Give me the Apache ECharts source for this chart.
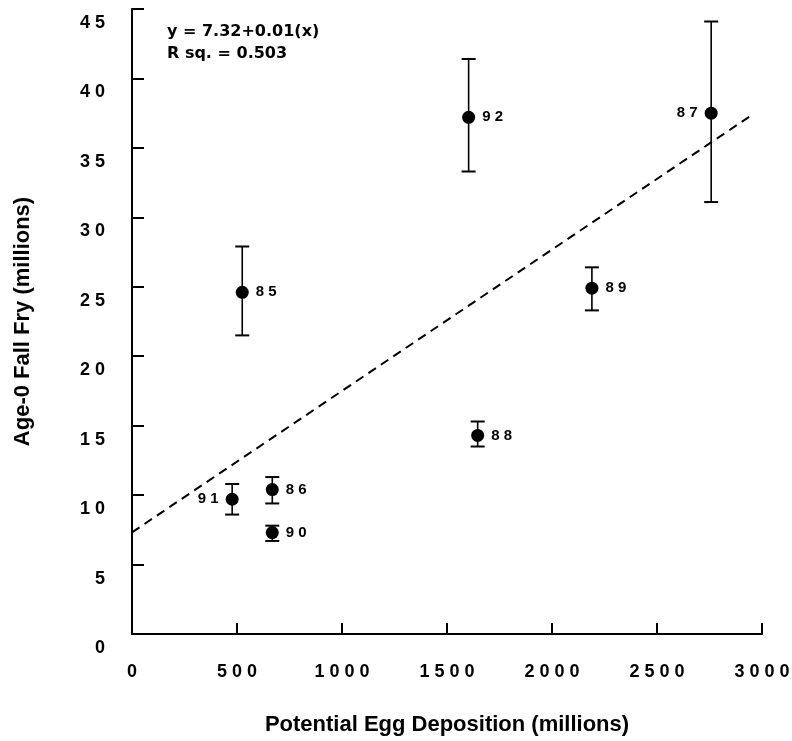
<!DOCTYPE html>
<html><head><meta charset="utf-8">
<script src="https://cdn.jsdelivr.net/npm/echarts@6/dist/echarts.min.js"></script>
<style>html,body{margin:0;padding:0;background:#fff}#c{width:792px;height:741px}</style>
</head><body><div id="c"></div>
<script>
const years = ['85','86','87','88','89','90','91','92'];
const eggs  = [525, 668, 2758, 1646, 2190, 668, 477, 1603];
const fry   = [24.6, 10.4, 37.5, 14.3, 24.9, 7.3, 9.7, 37.2];
const fryLow  = [21.5, 9.4, 31.1, 13.5, 23.3, 6.7, 8.6, 33.3];
const fryHigh = [27.9, 11.3, 44.1, 15.3, 26.4, 7.8, 10.8, 41.4];
const labelSide = ['right','right','left','right','right','right','left','right'];
const regX = [0, 2945];
const regY = [7.32, 37.3];
const xTicks = [0,500,1000,1500,2000,2500,3000];
const yTicks = [0,5,10,15,20,25,30,35,40,45];

const FONT = '"Liberation Sans", Arial, sans-serif';
const spaced = v => String(v).split('').join(' ');
const chart = echarts.init(document.getElementById('c'));

const pts = years.map((y,i)=>({value:[eggs[i], fry[i]], label:{position:labelSide[i]}}));
const errData = years.map((y,i)=>[eggs[i], fryLow[i], fryHigh[i]]);
const regData = regX.map((x,i)=>[x, regY[i]]);

chart.setOption({
  animation:false,
  backgroundColor:'#fff',
  grid:{left:132, right:30, top:9, bottom:107, containLabel:false, outerBoundsMode:'none'},
  xAxis:{type:'value', min:xTicks[0], max:xTicks[xTicks.length-1], interval:xTicks[1]-xTicks[0],
    axisLine:{lineStyle:{color:'#000', width:2}},
    axisTick:{inside:true, length:11, lineStyle:{color:'#000', width:2}},
    splitLine:{show:false},
    axisLabel:{color:'#000', fontFamily:FONT, fontWeight:'bold', fontSize:18, margin:29, formatter:spaced},
    name:'Potential Egg Deposition (millions)', nameLocation:'middle', nameGap:80,
    nameTextStyle:{color:'#000', fontFamily:FONT, fontWeight:'bold', fontSize:22}
  },
  yAxis:{type:'value', min:yTicks[0], max:yTicks[yTicks.length-1], interval:yTicks[1]-yTicks[0],
    axisLine:{show:true, lineStyle:{color:'#000', width:2}},
    axisTick:{show:true, inside:true, length:12, lineStyle:{color:'#000', width:2}},
    splitLine:{show:false},
    axisLabel:{color:'#000', fontFamily:FONT, fontWeight:'bold', fontSize:18, margin:27,
      formatter:spaced, verticalAlign:'top', padding:[5,0,0,0]},
    name:'Age-0 Fall Fry (millions)', nameLocation:'middle', nameGap:98,
    nameTextStyle:{color:'#000', fontFamily:FONT, fontWeight:'bold', fontSize:22}
  },
  graphic:[
    {type:'text', left:167, top:24, style:{text:'y = 7.32+0.01(x)', fill:'#000', font:'bold 16px "DejaVu Sans", sans-serif'}},
    {type:'text', left:167, top:46, style:{text:'R sq. = 0.503', fill:'#000', font:'bold 16px "DejaVu Sans", sans-serif'}}
  ],
  series:[
    {type:'line', data:regData, symbol:'none', silent:true,
     lineStyle:{color:'#000', width:2, type:[9,6]}},
    {type:'custom', data:errData, silent:true,
     renderItem:function(params, api){
       const x = api.value(0);
       const lo = api.coord([x, api.value(1)]);
       const hi = api.coord([x, api.value(2)]);
       const hw = 7;
       const st = {stroke:'#000', lineWidth:1.6};
       const sc = {stroke:'#000', lineWidth:2};
       return {type:'group', children:[
         {type:'line', shape:{x1:lo[0], y1:lo[1], x2:hi[0], y2:hi[1]}, style:st},
         {type:'line', shape:{x1:lo[0]-hw, y1:lo[1], x2:lo[0]+hw, y2:lo[1]}, style:sc},
         {type:'line', shape:{x1:hi[0]-hw, y1:hi[1], x2:hi[0]+hw, y2:hi[1]}, style:sc}
       ]};
     },
     encode:{x:0, y:[1,2]}
    },
    {type:'scatter', data:pts, symbol:'circle', symbolSize:13,
     itemStyle:{color:'#000', opacity:1},
     label:{show:true, distance:7, formatter:function(p){return spaced(years[p.dataIndex]);}, color:'#000',
       fontFamily:FONT, fontWeight:'bold', fontSize:15}
    }
  ]
});
</script></body></html>
